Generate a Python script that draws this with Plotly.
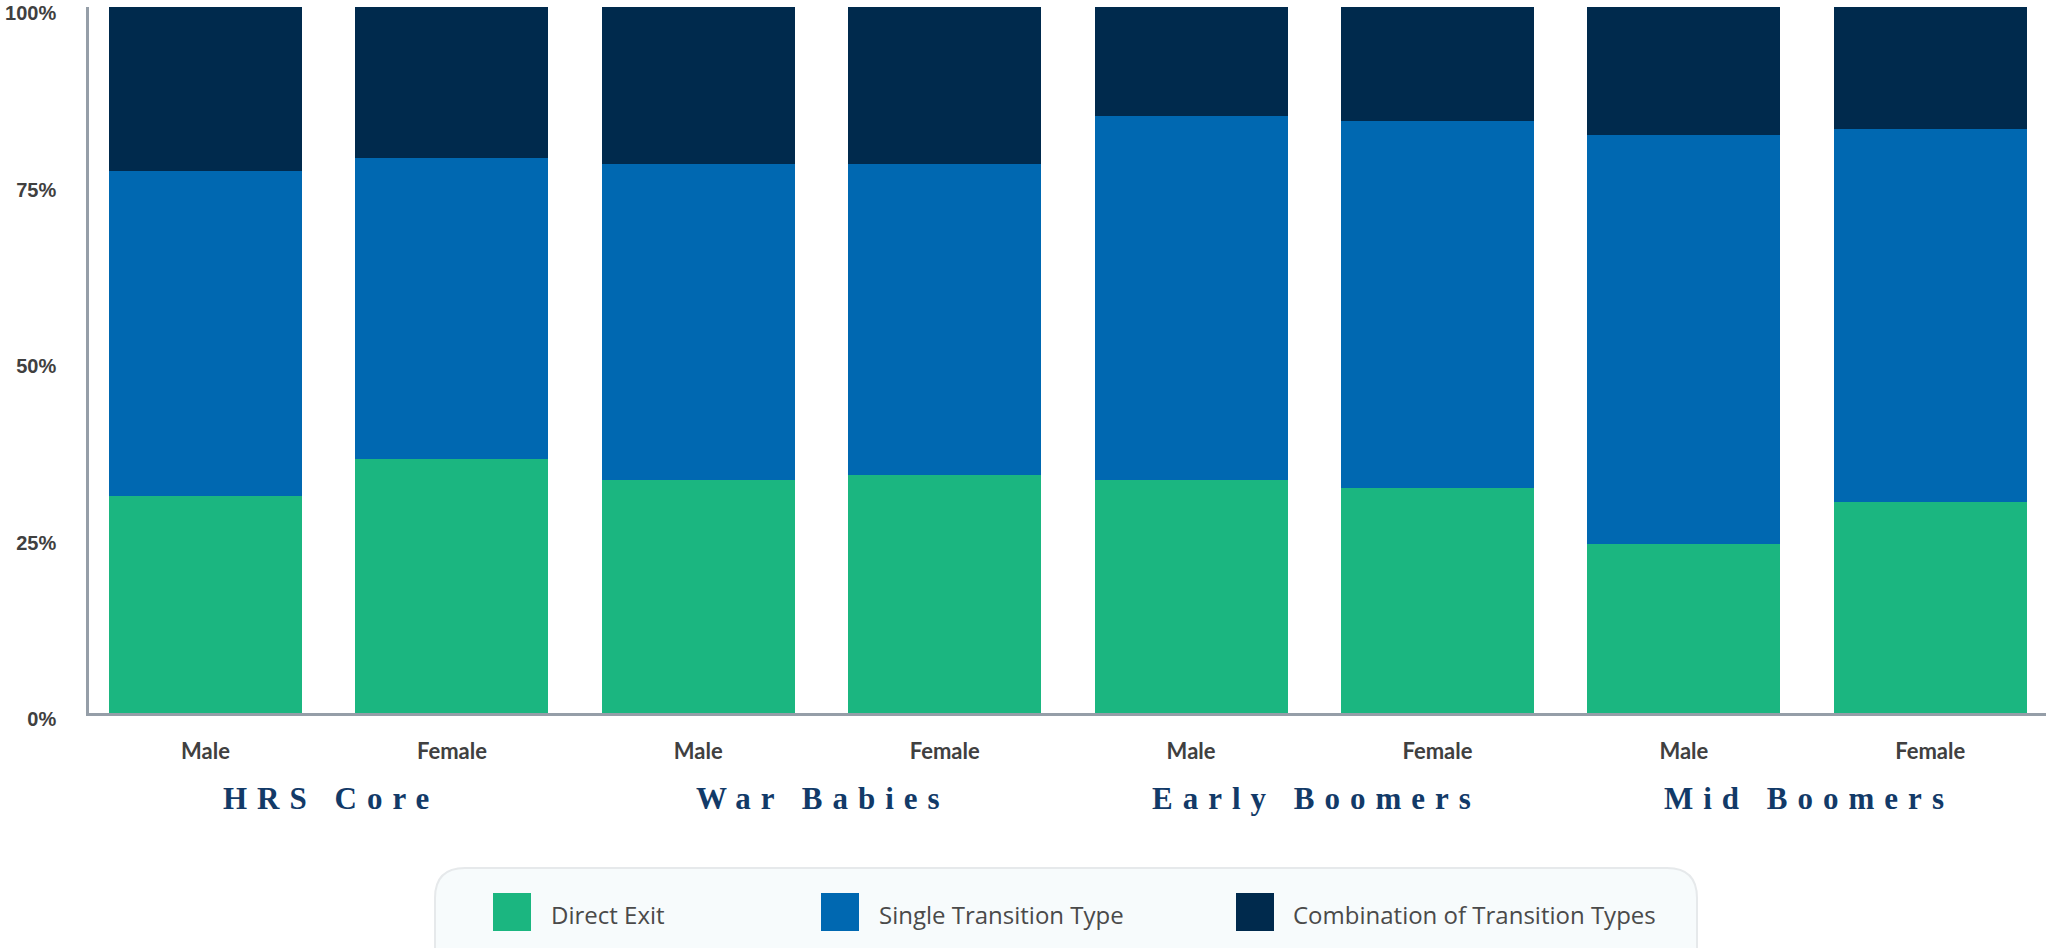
import plotly.graph_objects as go

# ---- data ----
cohorts = ["HRS Core", "War Babies", "Early Boomers", "Mid Boomers"]
sexes = ["Male", "Female"]
series_names = ["Direct Exit", "Single Transition Type", "Combination of Transition Types"]
direct_exit = [30.7, 36.0, 33.0, 33.7, 33.0, 31.9, 23.9, 29.9]
single_transition = [46.1, 42.6, 44.8, 44.1, 51.6, 52.0, 58.0, 52.8]
combination = [23.2, 21.4, 22.2, 22.2, 15.4, 16.1, 18.1, 17.3]
y_ticks = [0, 25, 50, 75, 100]
y_tick_labels = ["0%", "25%", "50%", "75%", "100%"]

colors = ["#1bb680", "#0068b1", "#002a4d"]

x_labels = [s for c in cohorts for s in sexes]
x_pos = list(range(len(x_labels)))

W, H = 2046, 948
# desired plot area in page pixels
PL, PR, PT, PB = 89, 2046, 7, 713
ML, MT = PL, PT
MR = W - PR
MB = H - PB
PW, PH = PR - PL, PB - PT


def px(xp):
    return (xp - PL) / PW


def py(yp):
    return (PB - yp) / PH


fig = go.Figure()
for name, vals, col in zip(series_names, [direct_exit, single_transition, combination], colors):
    fig.add_trace(go.Bar(x=x_pos, y=vals, name=name, marker=dict(color=col, line=dict(width=0)),
                         width=0.783, showlegend=False))

annotations = []
# cohort group labels
for i, c in enumerate(cohorts):
    annotations.append(dict(
        x=2 * i + 0.5, xref="x", y=py(798), yref="paper",
        text='<span style="letter-spacing:10px">' + c + '</span>',
        showarrow=False, xanchor="center", yanchor="middle", xshift=2,
        font=dict(family="Liberation Serif", size=31, color="#123a68", weight="bold"),
    ))

shapes = []
# legend box (rounded)
bx0, bx1, by0, by1, r = 435, 1697, 868, 990, 30
path = (f"M {px(bx0 + r)},{py(by0)} L {px(bx1 - r)},{py(by0)} "
        f"Q {px(bx1)},{py(by0)} {px(bx1)},{py(by0 + r)} L {px(bx1)},{py(by1 - r)} "
        f"Q {px(bx1)},{py(by1)} {px(bx1 - r)},{py(by1)} L {px(bx0 + r)},{py(by1)} "
        f"Q {px(bx0)},{py(by1)} {px(bx0)},{py(by1 - r)} L {px(bx0)},{py(by0 + r)} "
        f"Q {px(bx0)},{py(by0)} {px(bx0 + r)},{py(by0)} Z")
shapes.append(dict(type="path", path=path, xref="paper", yref="paper",
                   fillcolor="#f7fbfc", line=dict(color="#e6e9eb", width=2), layer="above"))

sw_x = [493, 821, 1236]
txt_x = [549, 877, 1291]
for name, col, sx, tx in zip(series_names, colors, sw_x, txt_x):
    shapes.append(dict(type="rect", xref="paper", yref="paper",
                       x0=px(sx), x1=px(sx + 38), y0=py(893), y1=py(931),
                       fillcolor=col, line=dict(width=0), layer="above"))
    annotations.append(dict(x=px(tx), xref="paper", y=py(914), yref="paper", text=name,
                            showarrow=False, xanchor="left", yanchor="middle",
                            font=dict(family="Open Sans", size=24, color="#4a4a4a")))

fig.update_layout(
    width=W, height=H,
    margin=dict(l=ML, r=MR, t=MT, b=MB, pad=0),
    barmode="stack",
    plot_bgcolor="white", paper_bgcolor="white",
    annotations=annotations, shapes=shapes,
    xaxis=dict(range=[-0.473, 7.47], tickmode="array", tickvals=x_pos, ticktext=x_labels,
               showgrid=False, zeroline=False, showline=True, linecolor="#959ea8", linewidth=2.5,
               ticks="", ticklabelstandoff=17,
               tickfont=dict(family="Lato", size=22, color="#404040", weight="bold")),
    yaxis=dict(range=[0, 100], tickmode="array", tickvals=y_ticks, ticktext=y_tick_labels,
               showgrid=False, zeroline=False, showline=True, linecolor="#959ea8", linewidth=2.5,
               ticks="", ticklabelstandoff=26, ticklabelshift=6, ticklabeloverflow="allow",
               tickfont=dict(family="Liberation Sans", size=20, color="#404040", weight="bold")),
)

fig.write_html("out.html", config={"displayModeBar": False},
               post_script="document.body.style.margin='0';document.body.style.overflow='hidden';")
